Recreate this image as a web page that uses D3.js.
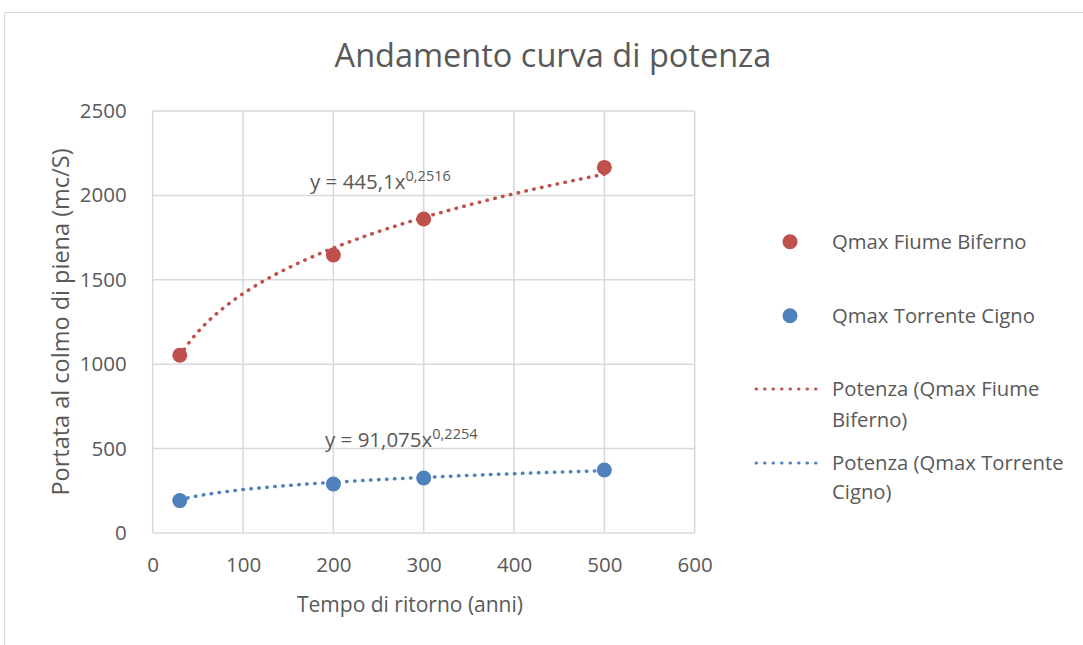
<!DOCTYPE html>
<html>
<head>
<meta charset="utf-8">
<script src="https://cdn.jsdelivr.net/npm/d3@7"></script>
<style>
  html, body { margin: 0; padding: 0; background: #fff; }
  svg { display: block; }
  text { font-family: "Open Sans", sans-serif; fill: #595959; }
</style>
</head>
<body>
<svg id="chart" width="1083" height="645"></svg>
<script>
// Return period (years)
const returnPeriods = [30, 200, 300, 500];
// Peak discharge, Biferno river (m3/s)
const biferno = [1053, 1647, 1860, 2166];
// Peak discharge, Cigno torrent (m3/s)
const cigno = [192, 290, 326, 373];
// Power trendline coefficients y = a * x^b
const bifernoFit = { a: 445.1, b: 0.2516, label: "445,1", exp: "0,2516" };
const cignoFit = { a: 91.075, b: 0.2254, label: "91,075", exp: "0,2254" };
const xTicks = [0, 100, 200, 300, 400, 500, 600];
const yTicks = [0, 500, 1000, 1500, 2000, 2500];

const RED = "#C0504D", BLUE = "#4F81BD", GRID = "#d9d9d9";

const svg = d3.select("#chart");

// chart frame
svg.append("path")
  .attr("d", "M4.5,645 V12.5 H1083")
  .attr("fill", "none").attr("stroke", GRID).attr("stroke-width", 1);

const x = d3.scaleLinear().domain([0, 600]).range([152.7, 694.7]);
const y = d3.scaleLinear().domain([0, 2500]).range([533, 111]);

// gridlines
svg.append("g").selectAll("line.h").data(yTicks).join("line")
  .attr("x1", x(0)).attr("x2", x(600))
  .attr("y1", d => y(d)).attr("y2", d => y(d))
  .attr("stroke", GRID).attr("stroke-width", 1.5);
svg.append("g").selectAll("line.v").data(xTicks).join("line")
  .attr("x1", d => x(d)).attr("x2", d => x(d))
  .attr("y1", y(0)).attr("y2", y(2500))
  .attr("stroke", GRID).attr("stroke-width", 1.5);

// axes (labels only, lines drawn by grid)
const xAxis = svg.append("g").attr("transform", `translate(0,${y(0)})`)
  .call(d3.axisBottom(x).tickValues(xTicks).tickSize(0).tickPadding(24).tickFormat(d3.format("d")));
const yAxis = svg.append("g").attr("transform", `translate(${x(0)},0)`)
  .call(d3.axisLeft(y).tickValues(yTicks).tickSize(0).tickPadding(26).tickFormat(d3.format("d")));
[xAxis, yAxis].forEach(g => {
  g.select(".domain").remove();
  g.selectAll("text").attr("font-family", "Open Sans").attr("font-size", 20.5).attr("fill", "#595959");
});

// title and axis titles
svg.append("text").attr("x", 553).attr("y", 67).attr("text-anchor", "middle")
  .attr("font-size", 32.5).text("Andamento curva di potenza");
svg.append("text").attr("x", 410).attr("y", 612).attr("text-anchor", "middle")
  .attr("font-size", 21).text("Tempo di ritorno (anni)");
svg.append("text").attr("transform", "translate(69,322) rotate(-90)").attr("text-anchor", "middle")
  .attr("font-size", 23.5).text("Portata al colmo di piena (mc/S)");

// power trendlines
function trend(fit) {
  const xs = d3.range(returnPeriods[0], returnPeriods[returnPeriods.length - 1] + 0.5, 2);
  return d3.line().x(d => x(d)).y(d => y(fit.a * Math.pow(d, fit.b)))(xs);
}
const dotted = sel => sel.attr("fill", "none").attr("stroke-width", 3.5)
  .attr("stroke-linecap", "round").attr("stroke-dasharray", "0.5 7.5");
svg.append("path").attr("d", trend(bifernoFit)).attr("stroke", RED).call(dotted);
svg.append("path").attr("d", trend(cignoFit)).attr("stroke", BLUE).call(dotted);

// data points
const series = [
  { values: biferno, color: RED },
  { values: cigno, color: BLUE }
];
series.forEach(s => {
  svg.append("g").selectAll("circle").data(returnPeriods).join("circle")
    .attr("cx", d => x(d)).attr("cy", (d, i) => y(s.values[i]))
    .attr("r", 7.5).attr("fill", s.color);
});

// trendline equations
function equation(px, py, fit) {
  const t = svg.append("text").attr("x", px).attr("y", py).attr("font-size", 20.5);
  t.append("tspan").text(`y = ${fit.label}x`);
  t.append("tspan").attr("dy", -8).attr("font-size", 14.5).text(fit.exp);
}
equation(310, 189, bifernoFit);
equation(325, 447, cignoFit);

// legend
const lg = svg.append("g").attr("font-size", 20.3);
lg.append("circle").attr("cx", 790).attr("cy", 241.7).attr("r", 7.5).attr("fill", RED);
lg.append("text").attr("x", 832).attr("y", 241.7).attr("dy", "0.35em").text("Qmax Fiume Biferno");
lg.append("circle").attr("cx", 790).attr("cy", 315.7).attr("r", 7.5).attr("fill", BLUE);
lg.append("text").attr("x", 832).attr("y", 315.7).attr("dy", "0.35em").text("Qmax Torrente Cigno");

lg.append("line").attr("x1", 756).attr("x2", 824).attr("y1", 389).attr("y2", 389)
  .attr("stroke", RED).attr("stroke-width", 3).attr("stroke-linecap", "round").attr("stroke-dasharray", "0.5 8");
lg.append("text").attr("x", 832).attr("y", 389).attr("dy", "0.35em").text("Potenza (Qmax Fiume");
lg.append("text").attr("x", 832).attr("y", 420).attr("dy", "0.35em").text("Biferno)");
lg.append("line").attr("x1", 756).attr("x2", 824).attr("y1", 463).attr("y2", 463)
  .attr("stroke", BLUE).attr("stroke-width", 3).attr("stroke-linecap", "round").attr("stroke-dasharray", "0.5 8");
lg.append("text").attr("x", 832).attr("y", 463).attr("dy", "0.35em").text("Potenza (Qmax Torrente");
lg.append("text").attr("x", 832).attr("y", 492).attr("dy", "0.35em").text("Cigno)");
</script>
</body>
</html>
